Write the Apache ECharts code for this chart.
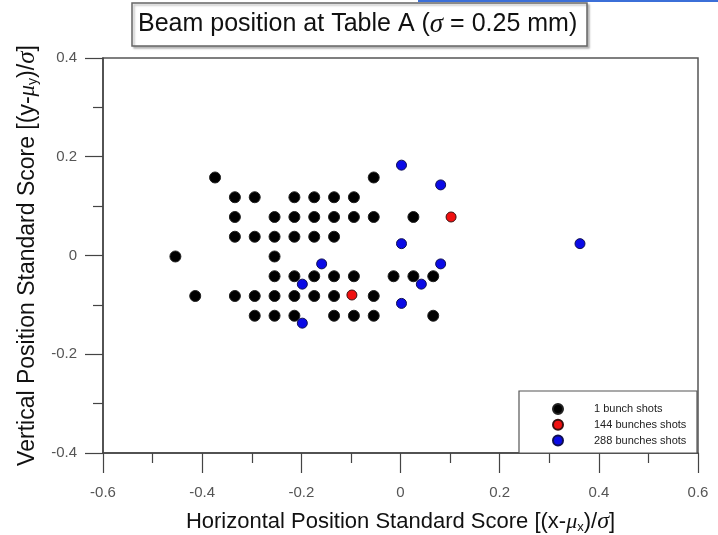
<!DOCTYPE html>
<html>
<head>
<meta charset="utf-8">
<script src="https://cdn.jsdelivr.net/npm/echarts@6/dist/echarts.min.js"></script>
<style>
  html, body { margin: 0; padding: 0; background: #fff; }
  #chart { width: 718px; height: 535px; }
</style>
</head>
<body>
<div id="chart"></div>
<script>
// 1 bunch shots (black)
const oneBunchX = [
  -0.374, -0.054,
  -0.334, -0.294, -0.214, -0.174, -0.134, -0.094,
  -0.334, -0.254, -0.214, -0.174, -0.134, -0.094, -0.054, 0.026,
  -0.334, -0.294, -0.254, -0.214, -0.174, -0.134,
  -0.454, -0.254,
  -0.254, -0.214, -0.174, -0.134, -0.094, -0.014, 0.026, 0.066,
  -0.414, -0.334, -0.294, -0.254, -0.214, -0.174, -0.134, -0.054,
  -0.294, -0.254, -0.214, -0.134, -0.094, -0.054, 0.066
];
const oneBunchY = [
  0.158, 0.158,
  0.118, 0.118, 0.118, 0.118, 0.118, 0.118,
  0.078, 0.078, 0.078, 0.078, 0.078, 0.078, 0.078, 0.078,
  0.038, 0.038, 0.038, 0.038, 0.038, 0.038,
  -0.002, -0.002,
  -0.042, -0.042, -0.042, -0.042, -0.042, -0.042, -0.042, -0.042,
  -0.082, -0.082, -0.082, -0.082, -0.082, -0.082, -0.082, -0.082,
  -0.122, -0.122, -0.122, -0.122, -0.122, -0.122, -0.122
];
// 144 bunches shots (red)
const bunch144X = [0.102, -0.098];
const bunch144Y = [0.078, -0.080];
// 288 bunches shots (blue)
const bunch288X = [0.002, 0.081, 0.002, 0.362, -0.159, 0.081, -0.198, 0.042, 0.002, -0.198];
const bunch288Y = [0.183, 0.143, 0.024, 0.024, -0.017, -0.017, -0.058, -0.058, -0.097, -0.137];

const seriesNames = ["1 bunch shots", "144 bunches shots", "288 bunches shots"];

function pairs(xs, ys) {
  return xs.map((x, i) => [x, ys[i]]);
}

const chart = echarts.init(document.getElementById("chart"));

function nameRich(size) {
  return {
    i: { fontStyle: "italic", fontSize: size, fontFamily: "Liberation Serif", color: "#111" },
    sub: { fontSize: Math.round(size * 0.6), verticalAlign: "bottom", padding: [8, 0, 0, 0], color: "#111" },
    s: { fontStyle: "italic", fontSize: size + 2, fontFamily: "Liberation Serif", color: "#111" }
  };
}

const axisLine = { show: true, onZero: false, lineStyle: { color: "#444", width: 1.5 } };
const tickStyle = { color: "#444", width: 1.2 };
const labelStyle = { fontFamily: "Liberation Sans", fontSize: 15, color: "#555" };

const option = {
  animation: false,
  title: {
    text: "Beam position at Table A ({s|σ} = 0.25 mm)",
    left: 132,
    top: 3,
    padding: [8, 10, 8, 6],
    borderColor: "#666",
    borderWidth: 1.5,
    shadowColor: "rgba(0,0,0,0.25)",
    shadowOffsetX: 2,
    shadowOffsetY: 2,
    shadowBlur: 2,
    backgroundColor: "#fff",
    textStyle: {
      fontFamily: "Liberation Sans",
      fontSize: 25,
      fontWeight: "normal",
      color: "#111",
      rich: {
        s: { fontStyle: "italic", fontSize: 27, fontFamily: "Liberation Serif", color: "#111" }
      }
    }
  },
  grid: {
    left: 103,
    right: 20,
    top: 58,
    bottom: 82,
    outerBoundsMode: "none",
    containLabel: false,
    show: true,
    borderColor: "#555",
    borderWidth: 1.5
  },
  graphic: [
    {
      type: "line",
      shape: { x1: 418, y1: 1, x2: 718, y2: 1 },
      style: { stroke: "#3b6fd8", lineWidth: 2 },
      silent: true
    },
    {
      type: "rect",
      shape: { x: 519, y: 391, width: 178, height: 62 },
      style: { fill: "#fff", stroke: "#555", lineWidth: 1.2 },
      z: 5,
      silent: true
    }
  ],
  legend: {
    orient: "vertical",
    left: 552,
    top: 403,
    padding: 0,
    itemGap: 3.8,
    itemWidth: 10,
    itemHeight: 10,
    z: 10,
    data: seriesNames,
    textStyle: {
      fontFamily: "Liberation Sans",
      fontSize: 11,
      color: "#222",
      lineHeight: 10,
      padding: [0, 0, 0, 26]
    }
  },
  xAxis: {
    type: "value",
    min: -0.6,
    max: 0.6,
    interval: 0.2,
    name: "Horizontal Position Standard Score [(x-{i|μ}{sub|x})/{s|σ}]",
    nameLocation: "middle",
    nameGap: 57,
    nameTextStyle: {
      fontFamily: "Liberation Sans",
      fontSize: 22,
      color: "#111",
      rich: nameRich(22)
    },
    axisLine: axisLine,
    axisTick: { show: true, length: 20, lineStyle: tickStyle },
    minorTick: { show: true, splitNumber: 2, length: 10, lineStyle: tickStyle },
    splitLine: { show: false },
    axisLabel: Object.assign({ margin: 32 }, labelStyle)
  },
  yAxis: {
    type: "value",
    min: -0.4,
    max: 0.4,
    interval: 0.2,
    name: "Vertical Position Standard Score [(y-{i|μ}{sub|y})/{s|σ}]",
    nameLocation: "middle",
    nameGap: 57,
    nameTextStyle: {
      fontFamily: "Liberation Sans",
      fontSize: 23,
      color: "#111",
      rich: nameRich(23)
    },
    axisLine: axisLine,
    axisTick: { show: true, length: 18, lineStyle: tickStyle },
    minorTick: { show: true, splitNumber: 2, length: 10, lineStyle: tickStyle },
    splitLine: { show: false },
    axisLabel: Object.assign({ margin: 26 }, labelStyle)
  },
  series: [
    {
      name: seriesNames[0],
      type: "scatter",
      symbol: "circle",
      symbolSize: 11,
      itemStyle: { color: "#000", borderColor: "#222", borderWidth: 1, opacity: 1 },
      data: pairs(oneBunchX, oneBunchY)
    },
    {
      name: seriesNames[1],
      type: "scatter",
      symbol: "circle",
      symbolSize: 10,
      itemStyle: { color: "#f01010", borderColor: "#3a1010", borderWidth: 1, opacity: 1 },
      data: pairs(bunch144X, bunch144Y)
    },
    {
      name: seriesNames[2],
      type: "scatter",
      symbol: "circle",
      symbolSize: 10,
      itemStyle: { color: "#0a0ae6", borderColor: "#101050", borderWidth: 1, opacity: 1 },
      data: pairs(bunch288X, bunch288Y)
    }
  ]
};

chart.setOption(option);
</script>
</body>
</html>
